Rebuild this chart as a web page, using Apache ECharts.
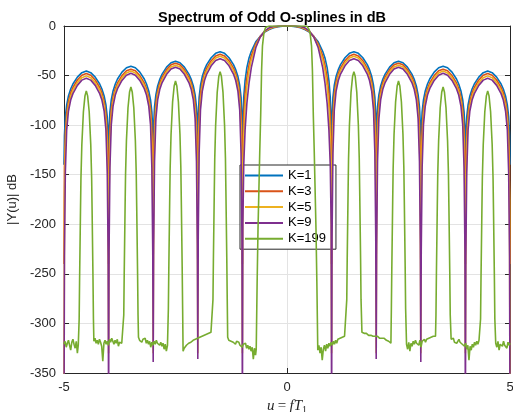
<!DOCTYPE html>
<html><head><meta charset="utf-8">
<script src="https://cdn.jsdelivr.net/npm/echarts@6/dist/echarts.min.js"></script>
<style>html,body{margin:0;padding:0;background:#fff}#c{width:513px;height:412px}</style>
</head><body><div id="c"></div>
<script>
// frequency grid u (shared by K=1,3,5,9)
var u = [
-5,-4.99,-4.97,-4.94,-4.9,-4.85,-4.8,-4.7,-4.6,-4.5,-4.4,-4.3,-4.2,-4.15,-4.1,-4.06,-4.03,-4.01,
-4,-3.99,-3.97,-3.94,-3.9,-3.85,-3.8,-3.7,-3.6,-3.5,-3.4,-3.3,-3.2,-3.15,-3.1,-3.06,-3.03,-3.01,
-3,-2.99,-2.97,-2.94,-2.9,-2.85,-2.8,-2.7,-2.6,-2.5,-2.4,-2.3,-2.2,-2.15,-2.1,-2.06,-2.03,-2.01,
-2,-1.99,-1.97,-1.94,-1.9,-1.85,-1.8,-1.7,-1.6,-1.5,-1.4,-1.3,-1.2,-1.15,-1.1,-1.06,-1.03,-1.01,
-1,-0.99,-0.97,-0.94,-0.9,-0.85,-0.8,-0.7,-0.6,-0.5,-0.4,-0.3,-0.2,-0.15,-0.1,-0.06,-0.03,-0.01,
0,0.01,0.03,0.06,0.1,0.15,0.2,0.3,0.4,0.5,0.6,0.7,0.8,0.85,0.9,0.94,0.97,0.99,
1,1.01,1.03,1.06,1.1,1.15,1.2,1.3,1.4,1.5,1.6,1.7,1.8,1.85,1.9,1.94,1.97,1.99,
2,2.01,2.03,2.06,2.1,2.15,2.2,2.3,2.4,2.5,2.6,2.7,2.8,2.85,2.9,2.94,2.97,2.99,
3,3.01,3.03,3.06,3.1,3.15,3.2,3.3,3.4,3.5,3.6,3.7,3.8,3.85,3.9,3.94,3.97,3.99,
4,4.01,4.03,4.06,4.1,4.15,4.2,4.3,4.4,4.5,4.6,4.7,4.8,4.85,4.9,4.94,4.97,4.99,
5];

var k1 = [
-140,-110.5,-91.5,-79.5,-70.5,-63.5,-58.5,-51.5,-47.1,-45.5,-47.1,-51.5,-58.5,-63.5,-70.5,-79.5,-91.5,-110.5,
-140,-105.5,-86.5,-74.5,-65.5,-58.5,-53.5,-46.5,-42.1,-40.5,-42.1,-46.5,-53.5,-58.5,-65.5,-74.5,-86.5,-105.5,
-140,-100.5,-81.5,-69.5,-60.5,-53.5,-48.5,-41.5,-37.1,-35.5,-37.1,-41.5,-48.5,-53.5,-60.5,-69.5,-81.5,-100.5,
-140,-91,-72,-60,-51,-44,-39,-32,-27.6,-26,-27.6,-32,-39,-44,-51,-60,-72,-91,
-140,-100,-72,-55,-42,-32,-25.5,-16,-10.5,-6,-3.5,-1.8,-0.8,-0.45,-0.2,-0.07,-0.02,0,
0,0,-0.02,-0.07,-0.2,-0.45,-0.8,-1.8,-3.5,-6,-10.5,-16,-25.5,-32,-42,-55,-72,-100,
-140,-91,-72,-60,-51,-44,-39,-32,-27.6,-26,-27.6,-32,-39,-44,-51,-60,-72,-91,
-140,-100.5,-81.5,-69.5,-60.5,-53.5,-48.5,-41.5,-37.1,-35.5,-37.1,-41.5,-48.5,-53.5,-60.5,-69.5,-81.5,-100.5,
-140,-105.5,-86.5,-74.5,-65.5,-58.5,-53.5,-46.5,-42.1,-40.5,-42.1,-46.5,-53.5,-58.5,-65.5,-74.5,-86.5,-105.5,
-140,-110.5,-91.5,-79.5,-70.5,-63.5,-58.5,-51.5,-47.1,-45.5,-47.1,-51.5,-58.5,-63.5,-70.5,-79.5,-91.5,-110.5,
-140];

var k3 = [
-240,-143,-108,-88,-76,-67.5,-62,-54.5,-49.7,-48,-49.7,-54.5,-62,-67.5,-76,-88,-108,-143,
-240,-138.5,-103.5,-83.5,-71.5,-63,-57.5,-50,-45.2,-43.5,-45.2,-50,-57.5,-63,-71.5,-83.5,-103.5,-138.5,
-240,-132.5,-97.5,-77.5,-65.5,-57,-51.5,-44,-39.2,-37.5,-39.2,-44,-51.5,-57,-65.5,-77.5,-97.5,-132.5,
-240,-123.5,-88.5,-68.5,-56.5,-48,-42.5,-35,-30.2,-28.5,-30.2,-35,-42.5,-48,-56.5,-68.5,-88.5,-123.5,
-240,-130,-90,-68,-52,-39,-30,-18,-10.5,-5.7,-3,-1.3,-0.5,-0.25,-0.1,-0.03,-0.01,0,
0,0,-0.01,-0.03,-0.1,-0.25,-0.5,-1.3,-3,-5.7,-10.5,-18,-30,-39,-52,-68,-90,-130,
-240,-123.5,-88.5,-68.5,-56.5,-48,-42.5,-35,-30.2,-28.5,-30.2,-35,-42.5,-48,-56.5,-68.5,-88.5,-123.5,
-240,-132.5,-97.5,-77.5,-65.5,-57,-51.5,-44,-39.2,-37.5,-39.2,-44,-51.5,-57,-65.5,-77.5,-97.5,-132.5,
-240,-138.5,-103.5,-83.5,-71.5,-63,-57.5,-50,-45.2,-43.5,-45.2,-50,-57.5,-63,-71.5,-83.5,-103.5,-138.5,
-240,-143,-108,-88,-76,-67.5,-62,-54.5,-49.7,-48,-49.7,-54.5,-62,-67.5,-76,-88,-108,-143,
-240];

var k5 = [
-400,-175.3,-122.3,-95.3,-80.3,-70.8,-64.8,-57.1,-52.1,-50.3,-52.1,-57.1,-64.8,-70.8,-80.3,-95.3,-122.3,-175.3,
-330,-170.5,-117.5,-90.5,-75.5,-66,-60,-52.3,-47.3,-45.5,-47.3,-52.3,-60,-66,-75.5,-90.5,-117.5,-170.5,
-330,-164.5,-111.5,-84.5,-69.5,-60,-54,-46.3,-41.3,-39.5,-41.3,-46.3,-54,-60,-69.5,-84.5,-111.5,-164.5,
-330,-155.5,-102.5,-75.5,-60.5,-51,-45,-37.3,-32.3,-30.5,-32.3,-37.3,-45,-51,-60.5,-75.5,-102.5,-155.5,
-330,-160,-110,-82,-61,-45,-34,-20,-11,-5.5,-2.5,-1,-0.3,-0.15,-0.05,-0.02,0,0,
0,0,0,-0.02,-0.05,-0.15,-0.3,-1,-2.5,-5.5,-11,-20,-34,-45,-61,-82,-110,-160,
-330,-155.5,-102.5,-75.5,-60.5,-51,-45,-37.3,-32.3,-30.5,-32.3,-37.3,-45,-51,-60.5,-75.5,-102.5,-155.5,
-330,-164.5,-111.5,-84.5,-69.5,-60,-54,-46.3,-41.3,-39.5,-41.3,-46.3,-54,-60,-69.5,-84.5,-111.5,-164.5,
-330,-170.5,-117.5,-90.5,-75.5,-66,-60,-52.3,-47.3,-45.5,-47.3,-52.3,-60,-66,-75.5,-90.5,-117.5,-170.5,
-330,-175.3,-122.3,-95.3,-80.3,-70.8,-64.8,-57.1,-52.1,-50.3,-52.1,-57.1,-64.8,-70.8,-80.3,-95.3,-122.3,-175.3,
-400];

var k9 = [
-400,-232.7,-147.7,-104.7,-85.7,-74.7,-68.2,-59.9,-54.6,-52.7,-54.6,-59.9,-68.2,-74.7,-85.7,-104.7,-147.7,-232.7,
-400,-227.7,-142.7,-99.7,-80.7,-69.7,-63.2,-54.9,-49.6,-47.7,-49.6,-54.9,-63.2,-69.7,-80.7,-99.7,-142.7,-227.7,
-339,-221.5,-136.5,-93.5,-74.5,-63.5,-57,-48.7,-43.4,-41.5,-43.4,-48.7,-57,-63.5,-74.5,-93.5,-136.5,-221.5,
-336,-213,-128,-85,-66,-55,-48.5,-40.2,-34.9,-33,-34.9,-40.2,-48.5,-55,-66,-85,-128,-213,
-400,-200,-140,-105,-78,-57,-42,-22,-11,-5,-1.8,-0.5,-0.1,-0.05,-0.02,0,0,0,
0,0,0,0,-0.02,-0.05,-0.1,-0.5,-1.8,-5,-11,-22,-42,-57,-78,-105,-140,-200,
-400,-213,-128,-85,-66,-55,-48.5,-40.2,-34.9,-33,-34.9,-40.2,-48.5,-55,-66,-85,-128,-213,
-336,-221.5,-136.5,-93.5,-74.5,-63.5,-57,-48.7,-43.4,-41.5,-43.4,-48.7,-57,-63.5,-74.5,-93.5,-136.5,-221.5,
-339,-227.7,-142.7,-99.7,-80.7,-69.7,-63.2,-54.9,-49.6,-47.7,-49.6,-54.9,-63.2,-69.7,-80.7,-99.7,-142.7,-227.7,
-400,-232.7,-147.7,-104.7,-85.7,-74.7,-68.2,-59.9,-54.6,-52.7,-54.6,-59.9,-68.2,-74.7,-85.7,-104.7,-147.7,-232.7,
-400];

// K=199 has its own grid
var u199 = [
-5,-4.975,-4.95,-4.925,-4.9,-4.875,-4.85,-4.825,-4.8,-4.775,-4.75,-4.725,-4.7,-4.68,
-4.66,-4.65,-4.63,-4.62,-4.6,-4.565,-4.53,-4.5,-4.47,-4.435,-4.4,-4.38,-4.37,-4.35,-4.34,
-4.33,-4.305,-4.28,-4.255,-4.23,-4.205,-4.18,-4.155,-4.13,-4.105,-4.08,-4.055,-4.03,-4.005,-3.98,-3.955,-3.93,-3.905,-3.88,-3.855,-3.83,-3.805,-3.78,-3.755,-3.73,-3.705,-3.68,
-3.66,-3.65,-3.63,-3.62,-3.6,-3.565,-3.53,-3.5,-3.47,-3.435,-3.4,-3.38,-3.37,-3.35,-3.34,
-3.33,-3.305,-3.28,-3.255,-3.23,-3.205,-3.18,-3.155,-3.13,-3.105,-3.08,-3.055,-3.03,-3.005,-2.98,-2.955,-2.93,-2.905,-2.88,-2.855,-2.83,-2.805,-2.78,-2.755,-2.73,-2.705,-2.68,
-2.66,-2.65,-2.63,-2.62,-2.6,-2.565,-2.53,-2.5,-2.47,-2.435,-2.4,-2.38,-2.37,-2.35,-2.34,
-2.33,-2.305,-2.28,-2.255,-2.23,-2.205,-2.18,-2.155,-2.13,-2.105,-2.08,-2.055,-2.03,-2.005,-1.98,-1.955,-1.93,-1.905,-1.88,-1.855,-1.83,-1.805,-1.78,-1.755,-1.73,-1.705,-1.68,
-1.66,-1.65,-1.63,-1.62,-1.6,-1.565,-1.53,-1.5,-1.47,-1.435,-1.4,-1.38,-1.37,-1.35,-1.34,
-1.33,-1.305,-1.28,-1.255,-1.23,-1.205,-1.18,-1.155,-1.13,-1.105,-1.08,-1.055,-1.03,-1.005,-0.98,-0.955,-0.93,-0.905,-0.88,-0.855,-0.83,-0.805,-0.78,-0.755,-0.73,-0.705,-0.69,
-0.67,-0.65,-0.63,-0.61,-0.59,-0.57,-0.55,-0.52,-0.5,-0.48,-0.45,-0.4,0,0.4,0.45,0.48,0.5,0.52,0.55,0.57,0.59,0.61,0.63,0.65,0.67,
0.69,0.715,0.74,0.765,0.79,0.815,0.84,0.865,0.89,0.915,0.94,0.965,0.99,1.015,1.04,1.065,1.09,1.115,1.14,1.165,1.19,1.215,1.24,1.265,1.29,1.315,1.33,
1.34,1.35,1.37,1.38,1.4,1.435,1.47,1.5,1.53,1.565,1.6,1.62,1.63,1.65,1.66,
1.68,1.705,1.73,1.755,1.78,1.805,1.83,1.855,1.88,1.905,1.93,1.955,1.98,2.005,2.03,2.055,2.08,2.105,2.13,2.155,2.18,2.205,2.23,2.255,2.28,2.305,2.33,
2.34,2.35,2.37,2.38,2.4,2.435,2.47,2.5,2.53,2.565,2.6,2.62,2.63,2.65,2.66,
2.68,2.705,2.73,2.755,2.78,2.805,2.83,2.855,2.88,2.905,2.93,2.955,2.98,3.005,3.03,3.055,3.08,3.105,3.13,3.155,3.18,3.205,3.23,3.255,3.28,3.305,3.33,
3.34,3.35,3.37,3.38,3.4,3.435,3.47,3.5,3.53,3.565,3.6,3.62,3.63,3.65,3.66,
3.68,3.705,3.73,3.755,3.78,3.805,3.83,3.855,3.88,3.905,3.93,3.955,3.98,4.005,4.03,4.055,4.08,4.105,4.13,4.155,4.18,4.205,4.23,4.255,4.28,4.305,4.33,
4.34,4.35,4.37,4.38,4.4,4.435,4.47,4.5,4.53,4.565,4.6,4.62,4.63,4.65,4.66,
4.68,4.705,4.73,4.755,4.78,4.805,4.83,4.855,4.88,4.905,4.93,4.955,4.98,5];

var k199 = [
-321,-318,-324,-320,-317,-322,-327,-319,-316,-321,-325,-318,-330,-322,
-295.5,-254.5,-185.5,-153.5,-119.5,-86.5,-70.5,-65.5,-70.5,-86.5,-119.5,-153.5,-185.5,-254.5,-295.5,
-318,-315,-320,-317,-321,-316,-319,-323,-338,-320,-317,-321,-318,-322,-316,-319,-315,-318,-321,-317,-320,-316,-323,-319,-317,-320,-318,
-291.5,-250.5,-181.5,-149.5,-115.5,-82.5,-66.5,-61.5,-66.5,-82.5,-115.5,-149.5,-181.5,-250.5,-291.5,
-314,-317,-315,-319,-316,-318,-315,-320,-317,-321,-318,-324,-319,-322,-318,-321,-317,-320,-318,-322,-319,-323,-320,-326,-321,-328,-322,
-285.5,-244.5,-175.5,-143.5,-109.5,-76.5,-60.5,-55.5,-60.5,-76.5,-109.5,-143.5,-175.5,-244.5,-285.5,
-328,-325,-324,-322,-323,-320,-321,-319,-319,-317,-318,-316,-316,-315,-315,-314,-314,-313,-313,-312,-312,-311,-311,-310,-310,-309,-309,
-276,-235,-166,-134,-100,-67,-51,-46,-51,-67,-100,-134,-166,-235,-276,
-314,-317,-315,-318,-316,-319,-317,-321,-318,-320,-319,-322,-320,-324,-321,-323,-320,-325,-322,-326,-323,-328,-324,-336,-325,-332,-326,
-260,-205,-165,-125,-90,-45,-20,-8,-4,-1.5,-0.3,0,0,0,-0.3,-1.5,-4,-8,-20,-45,-90,-125,-165,-205,-260,
-327,-322,-330,-324,-337,-326,-322,-328,-321,-325,-320,-323,-319,-322,-318,-321,-317,-320,-316,-318,-315,-317,-314,-316,-313,-314,-312,
-276,-235,-166,-134,-100,-67,-51,-46,-51,-67,-100,-134,-166,-235,-276,
-309,-310,-310,-311,-310,-311,-312,-311,-312,-312,-313,-312,-313,-314,-313,-314,-315,-314,-315,-316,-315,-316,-317,-316,-318,-319,-320,
-285.5,-244.5,-175.5,-143.5,-109.5,-76.5,-60.5,-55.5,-60.5,-76.5,-109.5,-143.5,-175.5,-244.5,-285.5,
-321,-326,-319,-328,-320,-323,-318,-321,-317,-320,-318,-322,-317,-324,-318,-320,-316,-319,-316,-318,-315,-317,-314,-316,-313,-315,-313,
-291.5,-250.5,-181.5,-149.5,-115.5,-82.5,-66.5,-61.5,-66.5,-82.5,-115.5,-149.5,-181.5,-250.5,-291.5,
-316,-318,-315,-319,-317,-320,-318,-316,-319,-317,-321,-319,-323,-320,-326,-322,-337,-323,-327,-321,-324,-319,-322,-318,-321,-317,-319,
-295.5,-254.5,-185.5,-153.5,-119.5,-86.5,-70.5,-65.5,-70.5,-86.5,-119.5,-153.5,-185.5,-254.5,-295.5,
-320,-324,-318,-327,-321,-319,-323,-318,-322,-320,-325,-319,-322,-320];

var names = ['K=1','K=3','K=5','K=9','K=199'];
var colors = ['#0072BD','#D95319','#EDB120','#7E2F8E','#77AC30'];
var xTicks = [-5, 0, 5];
var yTicks = [0,-50,-100,-150,-200,-250,-300,-350];

function pairs(xs, ys){ var out=[]; for (var i=0;i<xs.length && i<ys.length;i++) out.push([xs[i], ys[i]]); return out; }
var seriesData = [pairs(u,k1), pairs(u,k3), pairs(u,k5), pairs(u,k9), pairs(u199,k199)];

var axisCol = '#262626';
var font = 'Liberation Sans, Arial, Helvetica, sans-serif';
var serif = 'Liberation Serif, DejaVu Serif, serif';
var chart = echarts.init(document.getElementById('c'), null, {renderer:'canvas'});
var xBase = {type:'value', min:-5, max:5, interval:5,
  axisLine:{onZero:false, lineStyle:{color:axisCol, width:1}},
  axisTick:{inside:true, length:5, lineStyle:{color:axisCol}},
  splitLine:{show:false}};
var yBase = {type:'value', min:-350, max:0, interval:50,
  axisLine:{onZero:false, lineStyle:{color:axisCol, width:1}},
  axisTick:{inside:true, length:5, lineStyle:{color:axisCol}},
  splitLine:{show:false}};
chart.setOption({
  animation:false,
  backgroundColor:'#fff',
  title:{text:'Spectrum of Odd O-splines in dB', left:267, top:5, textAlign:'center',
    textStyle:{fontFamily:font, fontSize:14.5, fontWeight:'bold', color:'#000'}},
  grid:{left:64, right:3, top:26, bottom:39, containLabel:false, outerBoundsMode:'none'},
  legend:{orient:'vertical', left:240, top:165, data:names, icon:'rect', itemWidth:38, itemHeight:2,
    itemGap:2.8, padding:[4,10,4,5], backgroundColor:'#fff', borderColor:axisCol, borderWidth:1,
    textStyle:{fontFamily:font, fontSize:13, color:'#000', lineHeight:13}},
  xAxis:[
    Object.assign({}, xBase, {position:'bottom',
      axisLabel:{show:true, color:axisCol, fontFamily:font, fontSize:13, margin:8},
      splitLine:{show:true, lineStyle:{color:'#e3e3e3', width:1}},
      name:'{i|u} {n|=} {i|fT}{s|1}', nameLocation:'middle', nameGap:24,
      nameTextStyle:{rich:{
        i:{fontFamily:serif, fontStyle:'italic', fontSize:15, color:axisCol},
        n:{fontFamily:serif, fontSize:15, color:axisCol},
        s:{fontFamily:serif, fontSize:10, color:axisCol, padding:[8,0,0,0]}}}}),
    Object.assign({}, xBase, {position:'top', axisLabel:{show:false}})
  ],
  yAxis:[
    Object.assign({}, yBase, {position:'left',
      axisLabel:{show:true, color:axisCol, fontFamily:font, fontSize:13, margin:8},
      splitLine:{show:true, lineStyle:{color:'#e3e3e3', width:1}},
      name:'|\u03A5(u)| dB', nameLocation:'middle', nameGap:42, nameRotate:90,
      nameTextStyle:{fontFamily:font, fontSize:13, color:axisCol}}),
    Object.assign({}, yBase, {position:'right', axisLabel:{show:false}})
  ],
  series: names.map(function(n, i){
    return {name:n, type:'line', xAxisIndex:0, yAxisIndex:0, data:seriesData[i],
      showSymbol:false, symbol:'none', clip:true, z:2+i,
      lineStyle:{color:colors[i], width:1.6}, itemStyle:{color:colors[i]}};
  })
});
</script></body></html>
